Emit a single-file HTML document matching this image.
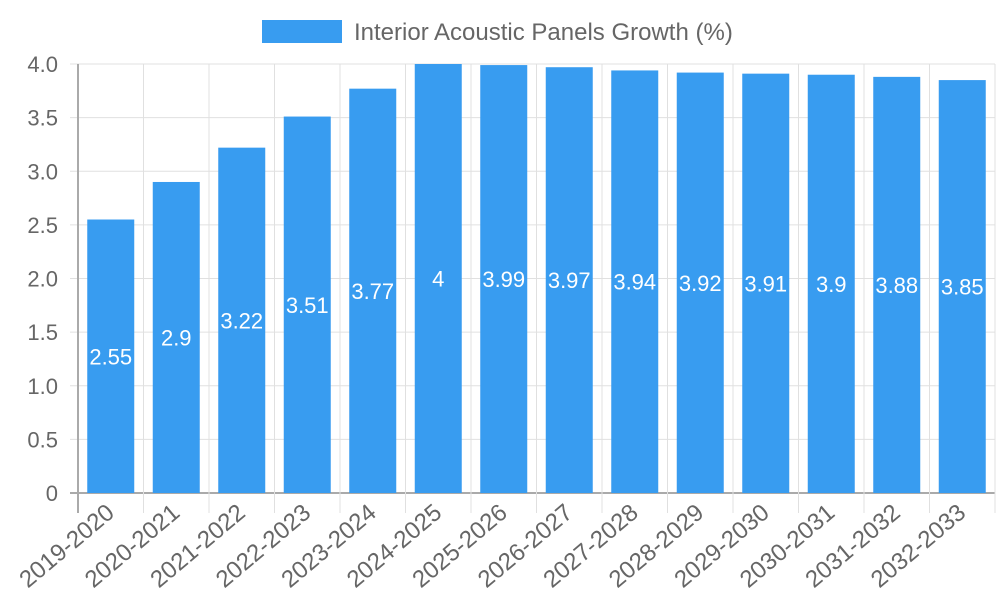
<!DOCTYPE html>
<html><head><meta charset="utf-8"><style>
body{margin:0;background:#fff;}
svg{display:block;font-family:"Liberation Sans",sans-serif;}
</style></head><body>
<svg id="chart" width="1000" height="600">
<g>
<rect x="262" y="20" width="80" height="23" fill="#389cf0"/>
<text x="354" y="40" font-size="24" fill="#666">Interior Acoustic Panels Growth (%)</text>
</g>
<g id="grid"></g><g id="bars"></g><g id="labels"></g>
</svg>
<script>
const categories=["2019-2020","2020-2021","2021-2022","2022-2023","2023-2024","2024-2025","2025-2026","2026-2027","2027-2028","2028-2029","2029-2030","2030-2031","2031-2032","2032-2033"];
const values=[2.55,2.9,3.22,3.51,3.77,4,3.99,3.97,3.94,3.92,3.91,3.9,3.88,3.85];
const yTicks=[0,0.5,1,1.5,2,2.5,3,3.5,4];
const yTickLabels=["0","0.5","1.0","1.5","2.0","2.5","3.0","3.5","4.0"];
const NS="http://www.w3.org/2000/svg";
const L=78,R=995,T=64,B=493,yMax=4;
const bw=(R-L)/categories.length;
const y=v=>B-(v/yMax)*(B-T);
const x=i=>L+bw*i;
function mk(tag,attrs,parent,txt){const e=document.createElementNS(NS,tag);for(const k in attrs)e.setAttribute(k,attrs[k]);if(txt!==undefined)e.textContent=txt;parent.appendChild(e);return e;}
const grid=document.getElementById('grid'),bars=document.getElementById('bars'),labels=document.getElementById('labels');
yTicks.forEach((t,i)=>{
  const l=mk('line',{x1:L-8,x2:R,y1:y(t),y2:y(t),stroke:i===0?'#aaa':'#e0e0e0','stroke-width':i===0?2:1},grid);
  
  
  const tx=mk('text',{x:L-20,y:y(t)+8,'text-anchor':'end','font-size':22,fill:'#666'},grid,yTickLabels[i]);
  
  
});
for(let i=0;i<=categories.length;i++){
  const l=mk('line',{x1:x(i),x2:x(i),y1:T,y2:B+20,stroke:i===0?'#aaa':'#e0e0e0','stroke-width':i===0?2:1},grid);
  
  
}
categories.forEach((c,i)=>{
  const cx=x(i)+bw/2, w=47;
  const r=mk('rect',{x:cx-w/2,y:y(values[i]),width:w,height:B-y(values[i]),fill:'#389cf0'},bars);
  
  
  const v=mk('text',{x:cx,y:(y(values[i])+B)/2+8,'text-anchor':'middle','font-size':22,fill:'#fff'},labels,String(values[i]));
  
  
  const t=mk('text',{x:cx+5,y:515,'text-anchor':'end','font-size':24,fill:'#666',transform:`rotate(-40 ${cx+5} 515)`},labels,c);
  
  
});
</script>
</body></html>
